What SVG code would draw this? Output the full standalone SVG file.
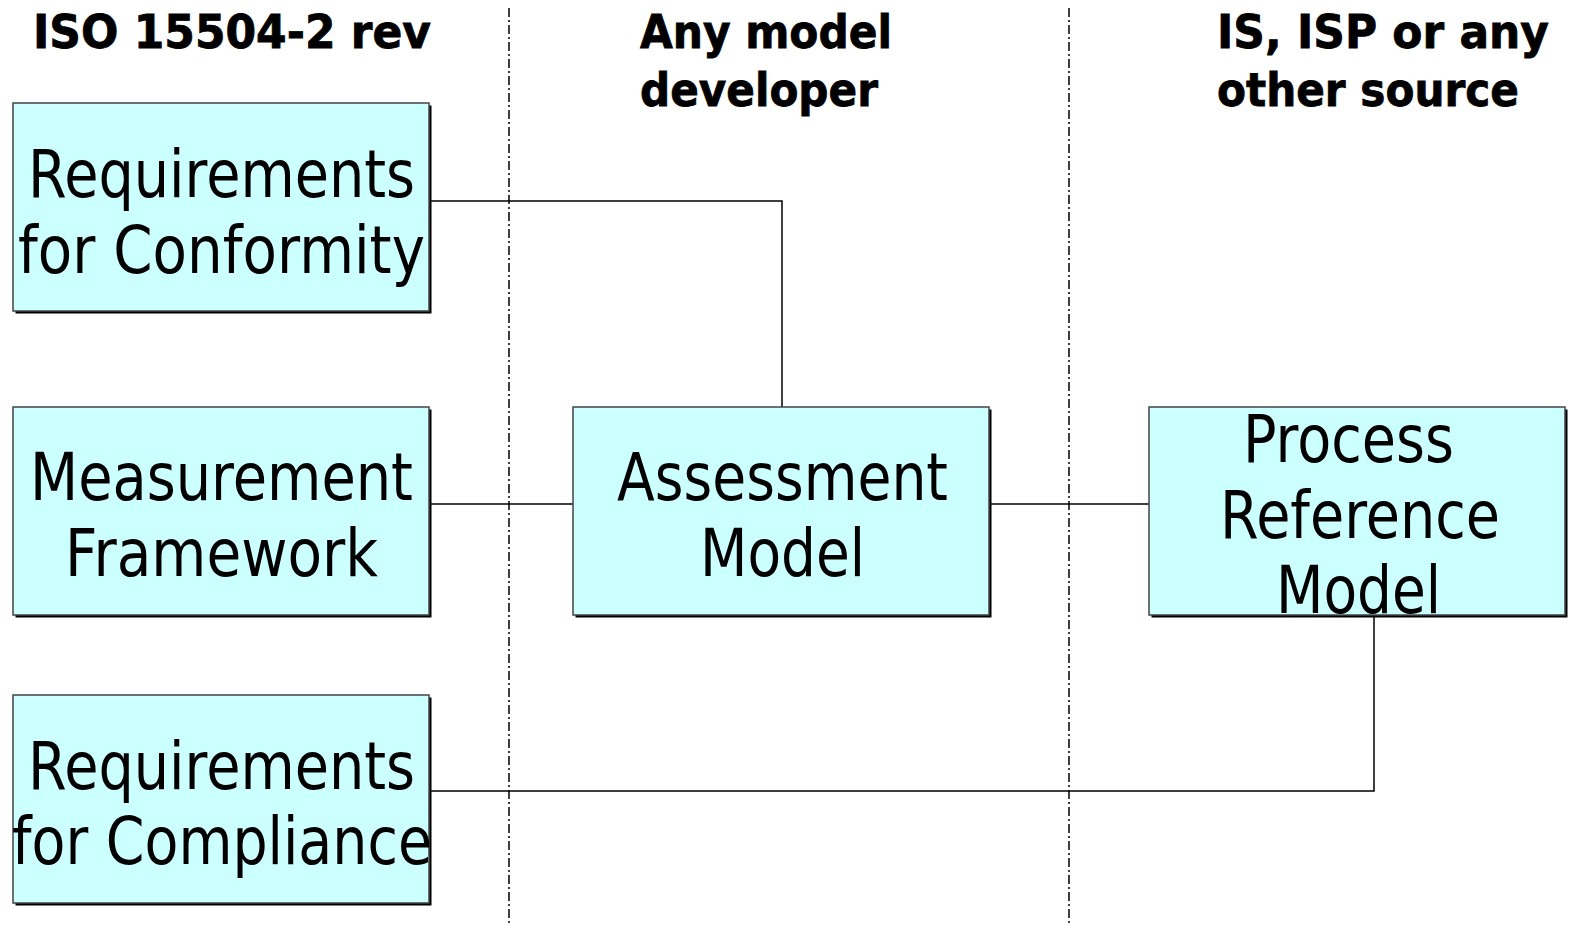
<svg xmlns="http://www.w3.org/2000/svg" width="1574" height="929" viewBox="0 0 1574 929">
<style>
.shadow{fill:#000}
.box{fill:#CCFFFF;stroke:#444;stroke-width:1.5}
.lbl{font-family:"DejaVu Sans","Verdana",sans-serif;font-size:66px;fill:#000}
.hdr{font-family:"DejaVu Sans","Verdana",sans-serif;font-size:46px;font-weight:bold;fill:#000;stroke:#000;stroke-width:0.8}
.sep{stroke:#000;stroke-width:1.5;stroke-dasharray:9 3 2 3;fill:none}
.con{stroke:#000;stroke-width:1.5;fill:none}
</style>
<rect width="1574" height="929" fill="#fff"/>
<g id="separators">
<line class="sep" x1="509" y1="8" x2="509" y2="923"/>
<line class="sep" x1="1069" y1="8" x2="1069" y2="923"/>
</g>
<g id="headers">
<text class="hdr" x="33" y="48" textLength="398" lengthAdjust="spacingAndGlyphs">ISO 15504-2 rev</text>
<text class="hdr" x="640" y="48" textLength="252" lengthAdjust="spacingAndGlyphs">Any model</text>
<text class="hdr" x="640" y="106" textLength="238" lengthAdjust="spacingAndGlyphs">developer</text>
<text class="hdr" x="1217" y="48" textLength="332" lengthAdjust="spacingAndGlyphs">IS, ISP or any</text>
<text class="hdr" x="1217" y="106" textLength="302" lengthAdjust="spacingAndGlyphs">other source</text>
</g>
<g id="connectors">
<polyline class="con" points="431,201 782,201 782,407"/>
<line class="con" x1="431" y1="504" x2="573" y2="504"/>
<line class="con" x1="991" y1="504" x2="1149" y2="504"/>
<polyline class="con" points="1374,617 1374,791 431,791"/>
</g>
<g id="req-conformity">
<rect class="shadow" x="15.5" y="105.5" width="416" height="208"/>
<rect class="box" x="13" y="103" width="416" height="208"/>
<text class="lbl" x="28" y="197" textLength="387" lengthAdjust="spacingAndGlyphs">Requirements</text>
<text class="lbl" x="18" y="273" textLength="407" lengthAdjust="spacingAndGlyphs">for Conformity</text>
</g>
<g id="measurement-framework">
<rect class="shadow" x="15.5" y="409.5" width="416" height="208"/>
<rect class="box" x="13" y="407" width="416" height="208"/>
<text class="lbl" x="30" y="500" textLength="383" lengthAdjust="spacingAndGlyphs">Measurement</text>
<text class="lbl" x="65" y="576" textLength="313" lengthAdjust="spacingAndGlyphs">Framework</text>
</g>
<g id="req-compliance">
<rect class="shadow" x="15.5" y="697.5" width="416" height="208"/>
<rect class="box" x="13" y="695" width="416" height="208"/>
<text class="lbl" x="28" y="789" textLength="387" lengthAdjust="spacingAndGlyphs">Requirements</text>
<text class="lbl" x="12" y="864" textLength="420" lengthAdjust="spacingAndGlyphs">for Compliance</text>
</g>
<g id="assessment-model">
<rect class="shadow" x="575.5" y="409.5" width="416" height="208"/>
<rect class="box" x="573" y="407" width="416" height="208"/>
<text class="lbl" x="617" y="500" textLength="331" lengthAdjust="spacingAndGlyphs">Assessment</text>
<text class="lbl" x="700" y="576" textLength="165" lengthAdjust="spacingAndGlyphs">Model</text>
</g>
<g id="process-reference-model">
<rect class="shadow" x="1151.5" y="409.5" width="416" height="208"/>
<rect class="box" x="1149" y="407" width="416" height="208"/>
<text class="lbl" x="1243" y="462" textLength="211" lengthAdjust="spacingAndGlyphs">Process</text>
<text class="lbl" x="1220" y="538" textLength="280" lengthAdjust="spacingAndGlyphs">Reference</text>
<text class="lbl" x="1276" y="613" textLength="165" lengthAdjust="spacingAndGlyphs">Model</text>
</g>
</svg>
